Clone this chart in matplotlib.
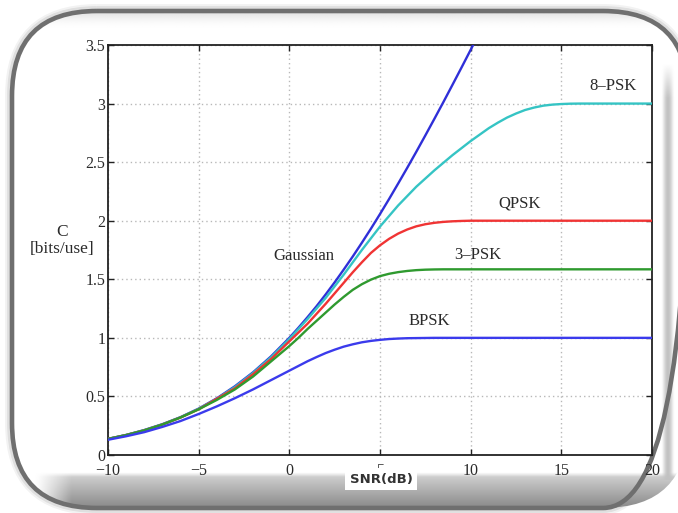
import numpy as np
import matplotlib
matplotlib.use('Agg')
import matplotlib.pyplot as plt
from matplotlib.patches import FancyBboxPatch

# capacity curves, C in bits per channel use
# 1 dB steps in the flat parts, 0.5 dB steps where the curves bend
snr_db = ([-10, -9, -8, -7, -6, -5, -4, -3, -2, -1]
          + [0, 0.5, 1, 1.5, 2, 2.5, 3, 3.5, 4, 4.5, 5, 5.5, 6, 6.5, 7, 7.5, 8,
             8.5, 9, 9.5, 10, 10.5, 11, 11.5, 12, 12.5, 13, 13.5, 14, 14.5, 15, 15.5, 16]
          + [17, 18, 19, 20])
gauss_db = ([-10, -9, -8, -7, -6, -5, -4, -3, -2, -1]
            + [0, 0.5, 1, 1.5, 2, 2.5, 3, 3.5, 4, 4.5, 5, 5.5, 6, 6.5, 7, 7.5, 8,
               8.5, 9, 9.5, 10, 10.5, 11])

c_gauss = ([0.138, 0.171, 0.213, 0.263, 0.323, 0.396, 0.484, 0.587, 0.706, 0.843]
           + [1.0, 1.086, 1.176, 1.27, 1.370, 1.474, 1.583, 1.695, 1.812, 1.932, 2.057,
              2.185, 2.317, 2.451, 2.588, 2.728, 2.870, 3.014, 3.161, 3.309, 3.459,
              3.611, 3.763])
c_8psk = ([0.137, 0.171, 0.212, 0.262, 0.322, 0.394, 0.48, 0.58, 0.70, 0.835]
          + [0.99, 1.075, 1.16, 1.25, 1.34, 1.44, 1.54, 1.645, 1.75, 1.85, 1.95, 2.04,
             2.13, 2.21, 2.29, 2.36, 2.43, 2.495, 2.56, 2.62, 2.68, 2.735, 2.79, 2.837,
             2.88, 2.915, 2.945, 2.966, 2.982, 2.991, 2.996, 2.999, 3.0]
          + [3.0, 3.0, 3.0, 3.0])
c_qpsk = ([0.137, 0.17, 0.21, 0.26, 0.32, 0.39, 0.48, 0.57, 0.69, 0.82]
          + [0.97, 1.045, 1.12, 1.205, 1.29, 1.38, 1.47, 1.56, 1.645, 1.725, 1.79, 1.845,
             1.89, 1.925, 1.952, 1.97, 1.982, 1.99, 1.995, 1.998, 2.0] + [2.0] * 12
          + [2.0, 2.0, 2.0, 2.0])
c_3psk = ([0.137, 0.17, 0.21, 0.26, 0.32, 0.39, 0.47, 0.56, 0.67, 0.80]
          + [0.93, 1.0, 1.075, 1.145, 1.215, 1.285, 1.35, 1.41, 1.458, 1.497, 1.527, 1.547,
             1.561, 1.571, 1.578, 1.582, 1.584, 1.585] + [1.585] * 15
          + [1.585, 1.585, 1.585, 1.585])
c_bpsk = ([0.13, 0.16, 0.195, 0.24, 0.29, 0.35, 0.415, 0.485, 0.56, 0.64]
          + [0.72, 0.76, 0.80, 0.836, 0.87, 0.899, 0.925, 0.945, 0.962, 0.974, 0.983,
             0.99, 0.994, 0.997, 0.998, 0.999, 1.0] + [1.0] * 16
          + [1.0, 1.0, 1.0, 1.0])

x_ticks = [-10, -5, 0, 5, 10, 15, 20]
x_ticklabels = ['\u221210', '\u22125', '0', '5', '10', '15', '20']
y_ticks = [0, 0.5, 1, 1.5, 2, 2.5, 3, 3.5]
y_ticklabels = ['0', '0.5', '1', '1.5', '2', '2.5', '3', '3.5']

# curve name, label position (dB, C)
curve_labels = [('Gaussian', 0.8, 1.70), ('BPSK', 7.7, 1.14), ('3\u2013PSK', 10.4, 1.71),
                ('QPSK', 12.7, 2.15), ('8\u2013PSK', 17.85, 3.15)]

W, H = 678, 513
fig = plt.figure(figsize=(W / 100, H / 100), dpi=100)
fig.patch.set_facecolor('white')

# rounded frame with soft shadows, drawn in pixel units
bg = fig.add_axes([0, 0, 1, 1], zorder=-1)
bg.axis('off')

box_kw = dict(boxstyle='round,pad=0,rounding_size=85')
fill = FancyBboxPatch((12, 11), 676, 497, facecolor='white', edgecolor='none', zorder=1, **box_kw)
bg.add_patch(fill)
for lw, a in [(10, 0.05), (7, 0.08)]:
    bg.add_patch(FancyBboxPatch((12, 11), 676, 497, facecolor='none', edgecolor='black',
                                linewidth=lw, alpha=a, zorder=0, **box_kw))


def shade(extent, vals, alpha):
    rgba = np.zeros(vals.shape + (4,))
    rgba[..., 0] = rgba[..., 1] = rgba[..., 2] = vals
    rgba[..., 3] = alpha
    im = bg.imshow(rgba, extent=extent, aspect='auto', interpolation='bilinear', zorder=2)
    im.set_clip_path(fill)


# bottom band: darker toward the frame edge, fading in on the left
rows = np.linspace(0, 1, 40)[:, None]
cols = np.linspace(0, 1, 200)[None, :]
vals = 0.84 - 0.30 * rows + 0 * cols
alpha = np.clip(rows * 8, 0, 1) * np.clip((cols * 670 - 15) / 35, 0, 1)
shade((20, 690, 508, 472), vals, alpha)

# right band
rows = np.linspace(0, 1, 100)[:, None]
cols = np.linspace(0, 1, 20)[None, :]
vals = 0.76 + 0 * rows + 0 * cols
alpha = np.sin(np.pi * cols) ** 1.5 * np.clip(rows * 12, 0, 1) * np.ones_like(rows)
shade((661, 675, 480, 62), vals, alpha)

# top band just under the frame
rows = np.linspace(0, 1, 20)[:, None]
cols = np.ones((1, 10))
shade((0, 690, 30, 12), 0.80 + 0 * rows * cols, (1 - rows) ** 2 * cols * 0.6)

bg.add_patch(FancyBboxPatch((12, 11), 676, 497, facecolor='none', edgecolor='#6f6f6f',
                            linewidth=3.3, zorder=4, **box_kw))
bg.set_xlim(0, W)
bg.set_ylim(H, 0)

# the plot itself
ax = fig.add_axes([108 / W, 1 - 455 / H, (652 - 108) / W, (455 - 45) / H])
ax.set_facecolor('white')
serif = 'Liberation Serif'

ax.plot(gauss_db, c_gauss, color='#2f2fd8', lw=1.7, zorder=3)
ax.plot(snr_db, c_8psk, color='#35c4c4', lw=1.7, zorder=3)
ax.plot(snr_db, c_qpsk, color='#f03434', lw=1.7, zorder=3)
ax.plot(snr_db, c_3psk, color='#2f9a2f', lw=1.7, zorder=3)
ax.plot(snr_db, c_bpsk, color='#3b3bec', lw=1.7, zorder=3)

for name, xv, yv in curve_labels:
    ax.text(xv, yv, name, family=serif, fontsize=12, color='#2a2a2a',
            ha='center', va='center')

ax.set_xlim(-10, 20)
ax.set_ylim(0, 3.5)
ax.set_xticks(x_ticks)
ax.set_xticklabels(x_ticklabels, family=serif, fontsize=11.5, color='#2a2a2a')
ax.set_yticks(y_ticks)
ax.set_yticklabels(y_ticklabels, family=serif, fontsize=11.5, color='#2a2a2a')
ax.tick_params(direction='in', length=4, width=1, top=True, right=True, color='#222222')
ax.tick_params(axis='x', pad=6)
ax.tick_params(axis='y', pad=2)
ax.grid(True, color='#b8b8b8', linestyle=(0, (1, 2.2)), linewidth=1)
for sp in ax.spines.values():
    sp.set_linewidth(1.3)
    sp.set_color('#222222')

fig.text(62 / W, 1 - 232 / H, 'C', family=serif, fontsize=12.5, color='#2a2a2a',
         ha='center', va='center')
fig.text(62 / W, 1 - 249 / H, '[bits/use]', family=serif, fontsize=12.5, color='#2a2a2a',
         ha='center', va='center')
fig.text(381 / W, 1 - 479 / H, 'SNR(dB)', family='DejaVu Sans', fontsize=9.5,
         fontweight='bold', color='#333333', ha='center', va='center',
         bbox=dict(boxstyle='square,pad=0.35', facecolor='white', edgecolor='none'))

fig.savefig('out.png', dpi=100)
